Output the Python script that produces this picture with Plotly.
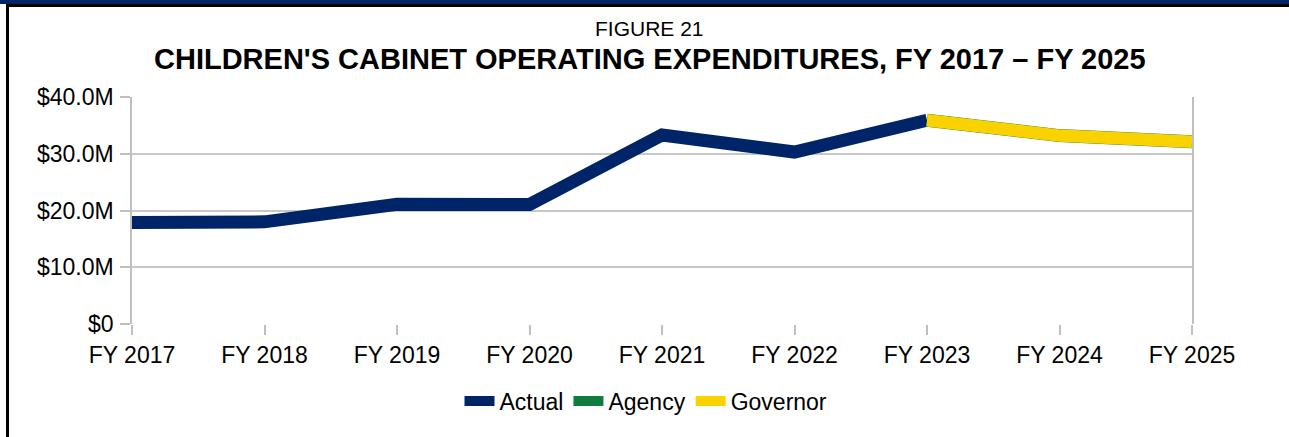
import plotly.graph_objects as go

years = ["FY 2017", "FY 2018", "FY 2019", "FY 2020", "FY 2021", "FY 2022", "FY 2023", "FY 2024", "FY 2025"]
actual = [17.9, 18.0, 21.1, 21.05, 33.3, 30.3, 35.9, None, None]
agency = [None, None, None, None, None, None, 35.9, 33.2, 32.1]
governor = [None, None, None, None, None, None, 35.9, 33.2, 32.1]
ytick_vals = [0, 10, 20, 30, 40]
ytick_text = ["$0", "$10.0M", "$20.0M", "$30.0M", "$40.0M"]

NAVY = "#002468"
GREEN = "#107D3E"
YELLOW = "#FAD200"
FONT = "Liberation Sans, Arial, sans-serif"

fig = go.Figure()
fig.add_trace(go.Scatter(x=years, y=actual, name="Actual", mode="lines",
                         line=dict(color=NAVY, width=13), connectgaps=False))
fig.add_trace(go.Scatter(x=years, y=agency, name="Agency", mode="lines",
                         line=dict(color=GREEN, width=13)))
fig.add_trace(go.Scatter(x=years, y=governor, name="Governor", mode="lines",
                         line=dict(color=YELLOW, width=12.5)))

W, H = 1289, 437
L, R, T, B = 132, 97, 97, 113
pw, ph = W - L - R, H - T - B

def px_x(p):
    return (p - L) / pw

def px_y(p):
    return (H - B - p) / ph

shapes = [
    dict(type="rect", xref="paper", yref="paper", x0=px_x(0), x1=px_x(W), y0=px_y(0), y1=px_y(4),
         fillcolor=NAVY, line=dict(width=0), layer="above"),
    dict(type="rect", xref="paper", yref="paper", x0=px_x(6), x1=px_x(W), y0=px_y(4), y1=px_y(7),
         fillcolor="#000000", line=dict(width=0), layer="above"),
    dict(type="rect", xref="paper", yref="paper", x0=px_x(6), x1=px_x(9), y0=px_y(4), y1=px_y(H),
         fillcolor="#000000", line=dict(width=0), layer="above"),
]

fig.update_layout(
    width=W, height=H,
    margin=dict(l=L, r=R, t=T, b=B, pad=0),
    paper_bgcolor="white", plot_bgcolor="white",
    font=dict(family=FONT, size=23, color="#000000"),
    showlegend=True,
    legend=dict(orientation="h", x=px_x(646), xanchor="center", y=px_y(401), yanchor="middle",
                font=dict(size=23), itemwidth=30, tracegroupgap=0),
    shapes=shapes,
    annotations=[
        dict(text="FIGURE 21", xref="paper", yref="paper", x=px_x(649), y=px_y(28),
             showarrow=False, font=dict(size=21), xanchor="center", yanchor="middle"),
        dict(text="<b>CHILDREN'S CABINET OPERATING EXPENDITURES, FY 2017 – FY 2025</b>",
             xref="paper", yref="paper", x=px_x(650), y=px_y(59),
             showarrow=False, font=dict(size=29), xanchor="center", yanchor="middle"),
    ],
)

fig.update_xaxes(type="category", range=[0, 8], showgrid=False, showline=False,
                 ticks="outside", ticklen=10, tickcolor="#c0c0c0", tickwidth=1.5,
                 tickfont=dict(size=23), zeroline=False)
fig.update_yaxes(range=[0, 40], tickvals=ytick_vals, ticktext=ytick_text,
                 showgrid=True, gridcolor="#c8c8c8", gridwidth=1.5,
                 showline=True, linecolor="#c0c0c0", linewidth=1.5, mirror=True,
                 ticks="outside", ticklen=10, tickcolor="#c0c0c0", tickwidth=1.5,
                 tickfont=dict(size=23), zeroline=False, ticklabelstandoff=2)

fig.write_html("out.html", config={"displayModeBar": False},
               post_script="document.body.style.margin='0';document.body.style.overflow='hidden';")
